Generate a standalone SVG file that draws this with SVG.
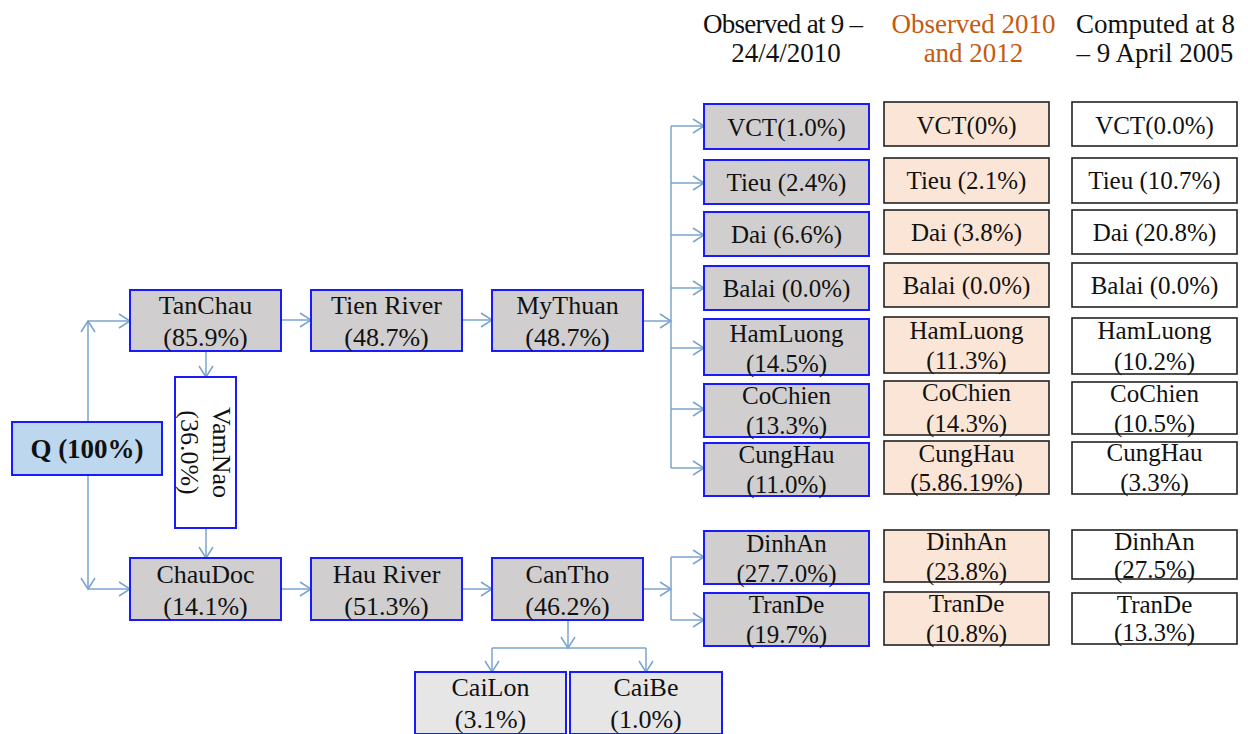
<svg xmlns="http://www.w3.org/2000/svg" width="1248" height="734" viewBox="0 0 1248 734">
<defs>
<marker id="arr" markerUnits="userSpaceOnUse" markerWidth="14" markerHeight="18" refX="12" refY="8" orient="auto" viewBox="0 0 14 16">
<path d="M1,1 L12,8 L1,15" fill="none" stroke="#7ba3d0" stroke-width="1.5"/>
</marker>
</defs>
<style>
text{font-family:"Liberation Serif","Times New Roman",serif;fill:#111;text-anchor:middle}
.L{font-size:26px}
.R{font-size:25px}
.g{fill:#d0cece;stroke:#1a1aff;stroke-width:2}
.q{fill:#bdd7ee;stroke:#1a1aff;stroke-width:2}
.w{fill:#ffffff;stroke:#1a1aff;stroke-width:2}
.lg{fill:#e7e6e6;stroke:#1a1aff;stroke-width:2}
.p{fill:#fbe5d6;stroke:#222;stroke-width:1.6}
.c{fill:#ffffff;stroke:#222;stroke-width:1.6}
.h{font-size:27px}
.o{fill:#c55a11}
#connectors path{fill:none;stroke:#7ba3d0;stroke-width:1.5}
</style>
<rect width="1248" height="734" fill="#ffffff"/>

<g id="headers">
<text class="h" x="783" y="33" textLength="160" lengthAdjust="spacing">Observed at 9 –</text>
<text class="h" x="786" y="62">24/4/2010</text>
<text class="h o" x="973.5" y="33">Observed 2010</text>
<text class="h o" x="973.5" y="62">and 2012</text>
<text class="h" x="1155.5" y="33">Computed at 8</text>
<text class="h" x="1155" y="62">– 9 April 2005</text>
</g>

<g id="connectors">
<path d="M88,422 V321" marker-end="url(#arr)"/>
<path d="M88,321 H130" marker-end="url(#arr)"/>
<path d="M88,476 V589" marker-end="url(#arr)"/>
<path d="M88,589 H130" marker-end="url(#arr)"/>
<path d="M281,320 H311" marker-end="url(#arr)"/>
<path d="M462,320 H492" marker-end="url(#arr)"/>
<path d="M206,351 V377" marker-end="url(#arr)"/>
<path d="M206,528 V558" marker-end="url(#arr)"/>
<path d="M281,589 H311" marker-end="url(#arr)"/>
<path d="M462,589 H492" marker-end="url(#arr)"/>
<path d="M643,321 H671" marker-end="url(#arr)"/>
<path d="M671,126 V468"/>
<path d="M671,126 H704" marker-end="url(#arr)"/>
<path d="M671,183 H704" marker-end="url(#arr)"/>
<path d="M671,235 H704" marker-end="url(#arr)"/>
<path d="M671,288 H704" marker-end="url(#arr)"/>
<path d="M671,348 H704" marker-end="url(#arr)"/>
<path d="M671,409 H704" marker-end="url(#arr)"/>
<path d="M671,468 H704" marker-end="url(#arr)"/>
<path d="M643,589 H671" marker-end="url(#arr)"/>
<path d="M671,557 V620"/>
<path d="M671,557 H704" marker-end="url(#arr)"/>
<path d="M671,620 H704" marker-end="url(#arr)"/>
<path d="M568,620 V648" marker-end="url(#arr)"/>
<path d="M492,648 H646"/>
<path d="M492,648 V672" marker-end="url(#arr)"/>
<path d="M646,648 V672" marker-end="url(#arr)"/>
</g>

<g id="Q"><rect class="q" x="12" y="422" width="150" height="53"/><text x="87" y="458" font-size="27" font-weight="bold">Q (100%)</text></g>
<g id="TanChau"><rect class="g" x="130" y="290" width="151" height="61"/><text class="L" x="205.5" y="314">TanChau</text><text class="L" x="205.5" y="346">(85.9%)</text></g>
<g id="VamNao"><rect class="w" x="175" y="377" width="61" height="151"/><g transform="translate(205.5,452.5) rotate(90)"><text class="L" x="0" y="-7">VamNao</text><text class="L" x="0" y="25">(36.0%)</text></g></g>
<g id="ChauDoc"><rect class="g" x="130" y="558" width="151" height="62"/><text class="L" x="205.5" y="583">ChauDoc</text><text class="L" x="205.5" y="615">(14.1%)</text></g>
<g id="TienRiver"><rect class="g" x="311" y="290" width="151" height="61"/><text class="L" x="386.5" y="314">Tien River</text><text class="L" x="386.5" y="346">(48.7%)</text></g>
<g id="HauRiver"><rect class="g" x="311" y="558" width="151" height="62"/><text class="L" x="386.5" y="583">Hau River</text><text class="L" x="386.5" y="615">(51.3%)</text></g>
<g id="MyThuan"><rect class="g" x="492" y="290" width="151" height="61"/><text class="L" x="567.5" y="314">MyThuan</text><text class="L" x="567.5" y="346">(48.7%)</text></g>
<g id="CanTho"><rect class="g" x="492" y="558" width="151" height="62"/><text class="L" x="567.5" y="583">CanTho</text><text class="L" x="567.5" y="615">(46.2%)</text></g>
<g id="CaiLon"><rect class="lg" x="415" y="672" width="151" height="62"/><text class="L" x="490.5" y="696">CaiLon</text><text class="L" x="490.5" y="728">(3.1%)</text></g>
<g id="CaiBe"><rect class="lg" x="570" y="672" width="152" height="62"/><text class="L" x="646" y="696">CaiBe</text><text class="L" x="646" y="728">(1.0%)</text></g>

<g id="obs-VCT"><rect class="g" x="704" y="104" width="165" height="45"/><text class="R" x="786.5" y="136">VCT(1.0%)</text></g>
<g id="obs-Tieu"><rect class="g" x="704" y="160" width="165" height="44"/><text class="R" x="786.5" y="191">Tieu (2.4%)</text></g>
<g id="obs-Dai"><rect class="g" x="704" y="212" width="165" height="44"/><text class="R" x="786.5" y="243">Dai (6.6%)</text></g>
<g id="obs-Balai"><rect class="g" x="704" y="266" width="165" height="44"/><text class="R" x="786.5" y="297">Balai (0.0%)</text></g>
<g id="obs-HamLuong"><rect class="g" x="704" y="319" width="165" height="56"/><text class="R" x="786.5" y="342">HamLuong</text><text class="R" x="786.5" y="372">(14.5%)</text></g>
<g id="obs-CoChien"><rect class="g" x="704" y="384" width="165" height="53"/><text class="R" x="786.5" y="404">CoChien</text><text class="R" x="786.5" y="434">(13.3%)</text></g>
<g id="obs-CungHau"><rect class="g" x="704" y="443" width="165" height="53"/><text class="R" x="786.5" y="463">CungHau</text><text class="R" x="786.5" y="493">(11.0%)</text></g>
<g id="obs-DinhAn"><rect class="g" x="704" y="531" width="165" height="53"/><text class="R" x="786.5" y="552">DinhAn</text><text class="R" x="786.5" y="582">(27.7.0%)</text></g>
<g id="obs-TranDe"><rect class="g" x="704" y="593" width="165" height="53"/><text class="R" x="786.5" y="613">TranDe</text><text class="R" x="786.5" y="643">(19.7%)</text></g>

<g id="obs2-VCT"><rect class="p" x="884" y="102" width="165" height="44"/><text class="R" x="966.5" y="134">VCT(0%)</text></g>
<g id="obs2-Tieu"><rect class="p" x="884" y="158" width="165" height="45"/><text class="R" x="966.5" y="189">Tieu (2.1%)</text></g>
<g id="obs2-Dai"><rect class="p" x="884" y="210" width="165" height="44"/><text class="R" x="966.5" y="241">Dai (3.8%)</text></g>
<g id="obs2-Balai"><rect class="p" x="884" y="263" width="165" height="44"/><text class="R" x="966.5" y="294">Balai (0.0%)</text></g>
<g id="obs2-HamLuong"><rect class="p" x="884" y="317" width="165" height="56"/><text class="R" x="966.5" y="339">HamLuong</text><text class="R" x="966.5" y="369">(11.3%)</text></g>
<g id="obs2-CoChien"><rect class="p" x="884" y="381" width="165" height="54"/><text class="R" x="966.5" y="401">CoChien</text><text class="R" x="966.5" y="432">(14.3%)</text></g>
<g id="obs2-CungHau"><rect class="p" x="884" y="441" width="165" height="53"/><text class="R" x="966.5" y="462">CungHau</text><text class="R" x="966.5" y="491">(5.86.19%)</text></g>
<g id="obs2-DinhAn"><rect class="p" x="884" y="530" width="165" height="52"/><text class="R" x="966.5" y="550">DinhAn</text><text class="R" x="966.5" y="580">(23.8%)</text></g>
<g id="obs2-TranDe"><rect class="p" x="884" y="592" width="165" height="53"/><text class="R" x="966.5" y="612">TranDe</text><text class="R" x="966.5" y="642">(10.8%)</text></g>

<g id="comp-VCT"><rect class="c" x="1072" y="102" width="165" height="44"/><text class="R" x="1154.5" y="134">VCT(0.0%)</text></g>
<g id="comp-Tieu"><rect class="c" x="1072" y="158" width="165" height="45"/><text class="R" x="1154.5" y="189">Tieu (10.7%)</text></g>
<g id="comp-Dai"><rect class="c" x="1072" y="210" width="165" height="44"/><text class="R" x="1154.5" y="241">Dai (20.8%)</text></g>
<g id="comp-Balai"><rect class="c" x="1072" y="263" width="165" height="44"/><text class="R" x="1154.5" y="294">Balai (0.0%)</text></g>
<g id="comp-HamLuong"><rect class="c" x="1072" y="318" width="165" height="56"/><text class="R" x="1154.5" y="339">HamLuong</text><text class="R" x="1154.5" y="370">(10.2%)</text></g>
<g id="comp-CoChien"><rect class="c" x="1072" y="382" width="165" height="52"/><text class="R" x="1154.5" y="402">CoChien</text><text class="R" x="1154.5" y="432">(10.5%)</text></g>
<g id="comp-CungHau"><rect class="c" x="1072" y="442" width="165" height="52"/><text class="R" x="1154.5" y="461">CungHau</text><text class="R" x="1154.5" y="491">(3.3%)</text></g>
<g id="comp-DinhAn"><rect class="c" x="1072" y="530" width="165" height="49"/><text class="R" x="1154.5" y="550">DinhAn</text><text class="R" x="1154.5" y="578">(27.5%)</text></g>
<g id="comp-TranDe"><rect class="c" x="1072" y="593" width="165" height="51"/><text class="R" x="1154.5" y="613">TranDe</text><text class="R" x="1154.5" y="641">(13.3%)</text></g>
</svg>
